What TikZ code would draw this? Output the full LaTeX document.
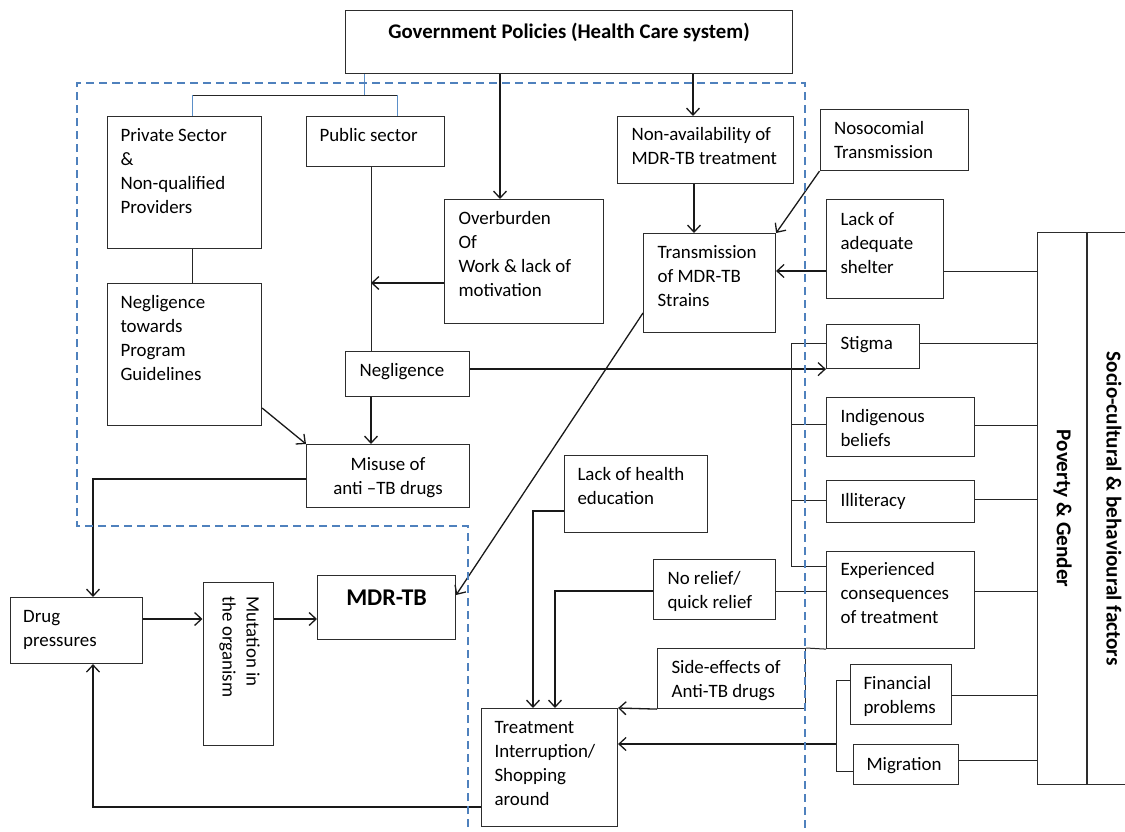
\documentclass[tikz,border=0pt]{standalone}
\usepackage{fontspec}
\setmainfont{Carlito}
\usetikzlibrary{arrows.meta}
\definecolor{dashblue}{RGB}{79,129,189}
\definecolor{linkblue}{RGB}{91,143,200}
\definecolor{boxgray}{RGB}{45,45,45}
\tikzset{
  bx/.style={draw=boxgray, line width=1.1pt, inner sep=0pt, anchor=north west, text=black},
  ln/.style={draw=black!85, line width=1pt},
  arr/.style={draw=black!90, line width=1.3pt, -{Straight Barb[length=7pt,width=13pt]}},
  bluelink/.style={draw=linkblue, line width=1pt},
  dashreg/.style={draw=dashblue, line width=1.5pt, dash pattern=on 8pt off 5pt}
}
\newcommand{\mkbox}[6][\raggedright\leftskip=13pt\rightskip=-60pt plus 1fil\relax\rule{0pt}{25pt}]{%
  \node[bx] (#2) at (#3) {\parbox[c][#5pt][t]{#4pt}{#1#6}};}
\begin{document}
\begin{tikzpicture}[x=1pt,y=-1pt,font=\fontsize{18.9}{24}\selectfont]
\useasboundingbox (0,0) rectangle (1125,831);
\clip (0,0) rectangle (1125,831);

% boxes
\mkbox[\centering\rule{0pt}{28pt}\fontsize{20.8}{24}\selectfont\bfseries]{gov}{345,10}{447}{63}{Government Policies (Health Care system)}
\mkbox{priv}{107,116}{154}{132}{Private Sector\\\&\\Non-qualified\\Providers}
\mkbox{pub}{306,116}{138}{50}{Public sector}
\mkbox[\raggedright\leftskip=14pt\rightskip=-60pt plus 1fil\relax\rule{0pt}{25pt}]{over}{444,199}{159}{124}{Overburden\\Of\\Work \& lack of\\motivation}
\mkbox[\raggedright\leftskip=14pt\rightskip=-60pt plus 1fil\relax\rule{0pt}{24pt}]{nonav}{617,116}{176}{67}{Non-availability of\\MDR-TB treatment}
\mkbox[\raggedright\leftskip=14pt\rightskip=-60pt plus 1fil\relax\rule{0pt}{25pt}]{noso}{819.5,109}{148.5}{61}{Nosocomial\\Transmission}
\mkbox[\raggedright\leftskip=14pt\rightskip=-60pt plus 1fil\relax\rule{0pt}{25pt}]{trans}{643,233}{132}{99}{Transmission\\of MDR-TB\\Strains}
\mkbox[\raggedright\leftskip=14pt\rightskip=-60pt plus 1fil\relax\rule{0pt}{26pt}]{shelter}{826,199}{117}{99}{Lack of\\adequate\\shelter}
\mkbox{negtow}{107,283}{154}{142}{Negligence\\towards\\Program\\Guidelines}
\mkbox[\raggedright\leftskip=14pt\rightskip=-60pt plus 1fil\relax\rule{0pt}{25pt}]{negl}{345,351}{124}{45}{Negligence}
\mkbox[\centering\rule{0pt}{26pt}]{misuse}{306,444}{163}{63}{Misuse of\\anti –TB drugs}
\mkbox{drug}{9.6,597}{132.4}{66}{Drug\\pressures}
\node[bx] (mut) at (202.5,582) {\rotatebox{-90}{\parbox[c][70.5pt][t]{163pt}{\raggedright\leftskip=14pt\rule{0pt}{27pt}Mutation in\\the organism}}};
\mkbox[\centering\rule{0pt}{30pt}\fontsize{24}{28}\selectfont\bfseries]{mdr}{317,575}{138}{64}{MDR-TB}
\mkbox{lackhe}{564,455}{143}{77}{Lack of health\\education}
\mkbox[\raggedright\leftskip=14pt\rightskip=-60pt plus 1fil\relax\rule{0pt}{25pt}]{norel}{653,559}{122}{60}{No relief/\\quick relief}
\mkbox[\raggedright\leftskip=14pt\rightskip=-60pt plus 1fil\relax\rule{0pt}{25pt}]{side}{657,648}{148}{60}{Side-effects of\\Anti-TB drugs}
\mkbox{treat}{481,708}{136}{118}{Treatment\\Interruption/\\Shopping\\around}
\mkbox[\raggedright\leftskip=14pt\rightskip=-60pt plus 1fil\relax\rule{0pt}{25pt}]{stigma}{826,324}{93}{44}{Stigma}
\mkbox[\raggedright\leftskip=14pt\rightskip=-60pt plus 1fil\relax\rule{0pt}{25pt}]{indig}{826,397}{148}{59}{Indigenous\\beliefs}
\mkbox[\raggedright\leftskip=14pt\rightskip=-60pt plus 1fil\relax\rule{0pt}{26pt}]{illit}{826,480}{148}{42}{Illiteracy}
\mkbox[\raggedright\leftskip=14pt\rightskip=-60pt plus 1fil\relax\rule{0pt}{24pt}]{exper}{826,551}{148}{97}{Experienced\\consequences\\of treatment}
\mkbox{fin}{850,664}{101}{60}{Financial\\problems}
\mkbox[\raggedright\leftskip=13pt\rightskip=-60pt plus 1fil\relax\rule{0pt}{26pt}]{mig}{853,744}{104.5}{40}{Migration}
\node[bx, minimum width=50pt, minimum height=552pt] (pov) at (1037,232) {\rotatebox{-90}{\fontsize{21.2}{24}\selectfont\bfseries Poverty \& Gender}};
\node[bx, minimum width=53pt, minimum height=552pt] (socio) at (1087,232) {\rotatebox{-90}{\fontsize{21.2}{24}\selectfont\bfseries Socio-cultural \& behavioural factors}};
\draw[line width=2pt, boxgray] (socio.north west) -- (socio.south west);

% named junction points
\coordinate (bj) at (364,95);
\coordinate (bl) at (192,95);
\coordinate (br) at (397,95);
\coordinate (pl) at (371,283);
\coordinate (fb1) at (836,680);
\coordinate (fb2) at (836,771);
\coordinate (fba) at (836,744);
\coordinate (sb1) at (791,343);
\coordinate (sb2) at (791,566);

% government links
\draw[bluelink] (gov.south -| bj) -- (bj);
\draw[ln] (bl) -- (br);
\draw[bluelink] (bl) -- (priv.north -| bl);
\draw[bluelink] (br) -- (pub.north -| br);
\draw[arr] (gov.south -| 500,0) -- (over.north -| 500,0);
\draw[arr] (gov.south -| 693,0) -- (nonav.north -| 693,0);

% left cluster
\draw[ln] (priv.south -| bl) -- (negtow.north -| bl);
\draw[ln] (pub.south -| pl) -- (negl.north -| pl);
\draw[arr] (over.west |- pl) -- (pl);
\draw[arr] (negtow.east |- 0,408) -- (misuse.north west);
\draw[arr] (negl.south -| pl) -- (misuse.north -| pl);
\draw[arr] (negl.east |- stigma.south west) -- (stigma.south west);
\draw[arr] (misuse.west |- 0,479) -| (drug.north -| 93,0);

% transmission
\draw[arr] (nonav.south -| 694,0) -- (trans.north -| 694,0);
\draw[arr] (noso.south west) -- (trans.north east);
\draw[arr] (shelter.west |- 0,271) -- (trans.east |- 0,271);
\draw[arr] (trans.west |- 0,313) -- (mdr.east |- 0,595);

% bottom chain
\draw[arr] (drug.east |- 0,619) -- (mut.west |- 0,619);
\draw[arr] (mut.east |- 0,619) -- (mdr.west |- 0,619);
\draw[arr] (treat.west |- 0,807) -| (drug.south -| 93,0);

% into treatment
\draw[arr] (lackhe.west |- 0,511) -| (treat.north -| 533,0);
\draw[arr] (norel.west |- 0,591) -| (treat.north -| 555,0);
\draw[ln] (norel.east |- 0,591) -- (exper.west |- 0,591);
\draw[arr] (side.south west) -- (treat.north east);
\draw[ln] (side.north east) -- (exper.south west);
\draw[ln] (fin.west |- fb1) -- (fb1) -- (fb2) -- (mig.west |- fb2);
\draw[arr] (fba) -- (treat.east |- fba);

% stigma bracket
\draw[ln] (stigma.west |- sb1) -- (sb1) -- (sb2) -- (exper.west |- sb2);
\draw[ln] (sb1 |- 0,424) -- (indig.west |- 0,424);
\draw[ln] (sb1 |- 0,500) -- (illit.west |- 0,500);

% to poverty box
\draw[ln] (shelter.east |- 0,271) -- (pov.west |- 0,271);
\draw[ln] (stigma.east |- 0,343) -- (pov.west |- 0,343);
\draw[ln] (indig.east |- 0,425) -- (pov.west |- 0,425);
\draw[ln] (illit.east |- 0,499) -- (pov.west |- 0,499);
\draw[ln] (exper.east |- 0,591) -- (pov.west |- 0,591);
\draw[ln] (fin.east |- 0,695) -- (pov.west |- 0,695);
\draw[ln] (mig.east |- 0,760) -- (pov.west |- 0,760);

% dashed region
\draw[dashreg] (468,840) -- (468,526) -- (77,526) -- (77,83) -- (805,83) -- (805,840);
\end{tikzpicture}
\end{document}
